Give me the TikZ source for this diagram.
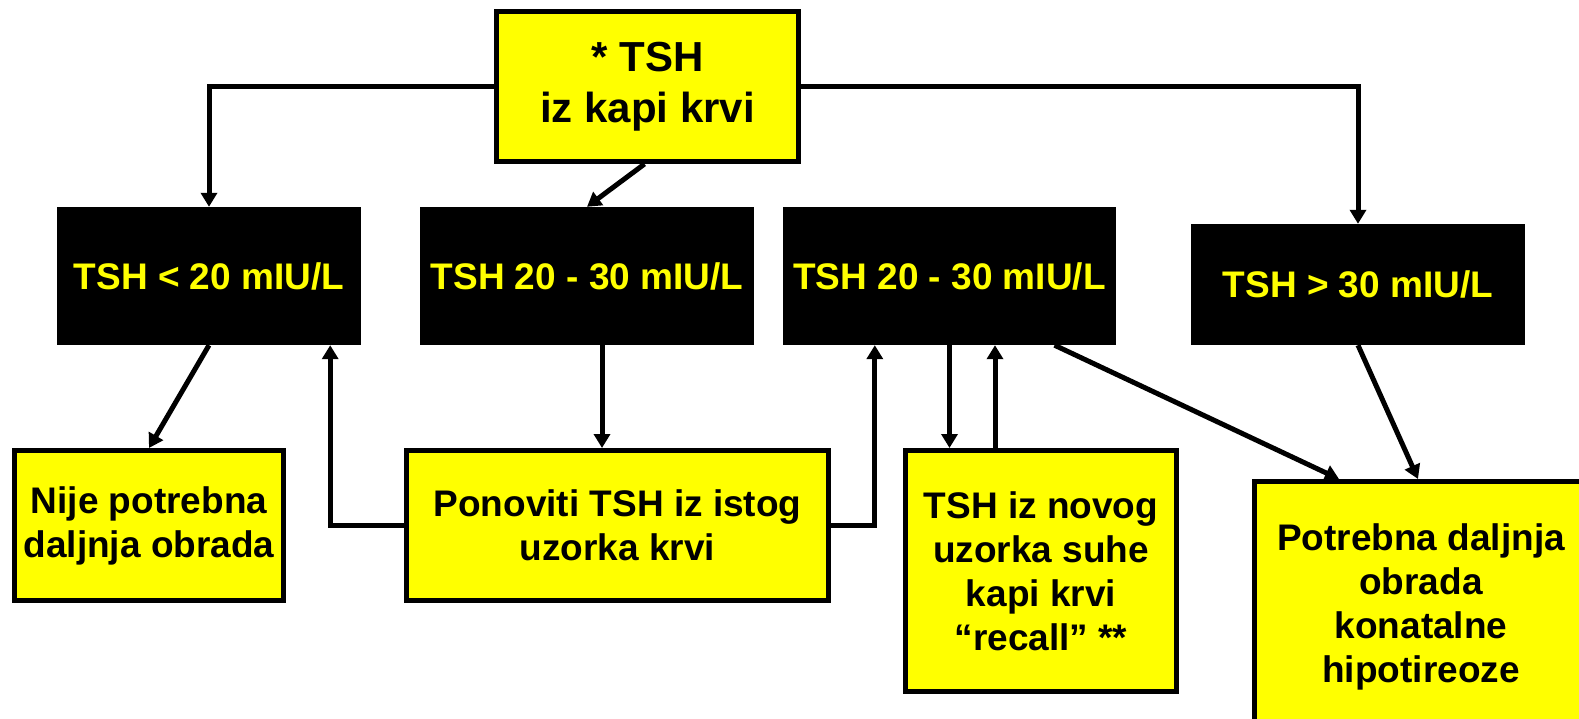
\documentclass[tikz,border=0pt]{standalone}
\usepackage{fontspec}
\setmainfont{Liberation Sans}
\usetikzlibrary{arrows.meta}
\definecolor{amarelo}{rgb}{1,1,0}

\begin{document}
\begin{tikzpicture}[
        x=1pt, y=-1pt,
        every node/.style={inner sep=0pt, align=center, font=\bfseries\fontsize{37}{44}\selectfont},
        caixa/.style={rectangle, draw=black, line width=5pt, fill=amarelo},
        caixapreta/.style={rectangle, fill=black, text=amarelo, minimum height=138pt},
        seta/.style={-{Triangle[length=14pt, width=16pt]}, line width=5pt}
        ]
        \useasboundingbox (0,0) rectangle (1579,719);
        \clip (0,0) rectangle (1579,719); % a ultima caixa sai da pagina

        \node [caixa, minimum width=302pt, minimum height=150pt, font=\bfseries\fontsize{42}{51}\selectfont] (tsh) at (647.5,86.5) {* TSH\\iz kapi krvi};

        \node [caixapreta, minimum width=304pt] (menor) at (209,276) {TSH < 20 mIU/L};
        \node [caixapreta, minimum width=334pt] (medio) at (587,276) {TSH 20 - 30 mIU/L};
        \node [caixapreta, minimum width=333pt] (medio2) at (949.5,276) {TSH 20 - 30 mIU/L};
        \node [caixapreta, minimum width=334pt, minimum height=121pt] (maior) at (1358,284.5) {TSH > 30 mIU/L};

        \node [caixa, minimum width=269pt, minimum height=150pt] (nije) at (149,525.5) {Nije potrebna\\daljnja obrada};
        \node [caixa, minimum width=422pt, minimum height=150pt] (ponovi) at (617.5,525.5) {Ponoviti TSH iz istog\\uzorka krvi};
        \node [caixa, minimum width=271pt, minimum height=241pt] (novi) at (1041,571) {TSH iz novog\\uzorka suhe\\kapi krvi\\“recall” **};
        \node [caixa, minimum width=333pt, minimum height=251pt] (obrada) at (1421,607) {Potrebna daljnja\\obrada\\konatalne\\hipotireoze};

        \draw[seta] (tsh.west) -| (menor.north);
        \draw[seta] (tsh.east) -| (maior.north);
        \draw[seta] ([xshift=-3pt]tsh.south) -- (medio.north);

        \draw[seta] (menor.south) -- (nije.north);
        \draw[seta] (ponovi.west) -| ([xshift=-31pt]menor.south east);
        \draw[seta] ([xshift=15pt]medio.south) -- ([xshift=15pt]medio.south |- ponovi.north);
        \draw[seta] (ponovi.east) -| ([xshift=92pt]medio2.south west);

        \draw[seta] (medio2.south) -- (medio2.south |- novi.north);
        \draw[seta] ([xshift=92pt]novi.north west) -- ([xshift=92pt]novi.north west |- medio2.south);
        \draw[seta] ([xshift=105pt]medio2.south) -- ([xshift=87pt]obrada.north west);
        \draw[seta] (maior.south) -- ([xshift=166pt]obrada.north west);
    \end{tikzpicture}
\end{document}
